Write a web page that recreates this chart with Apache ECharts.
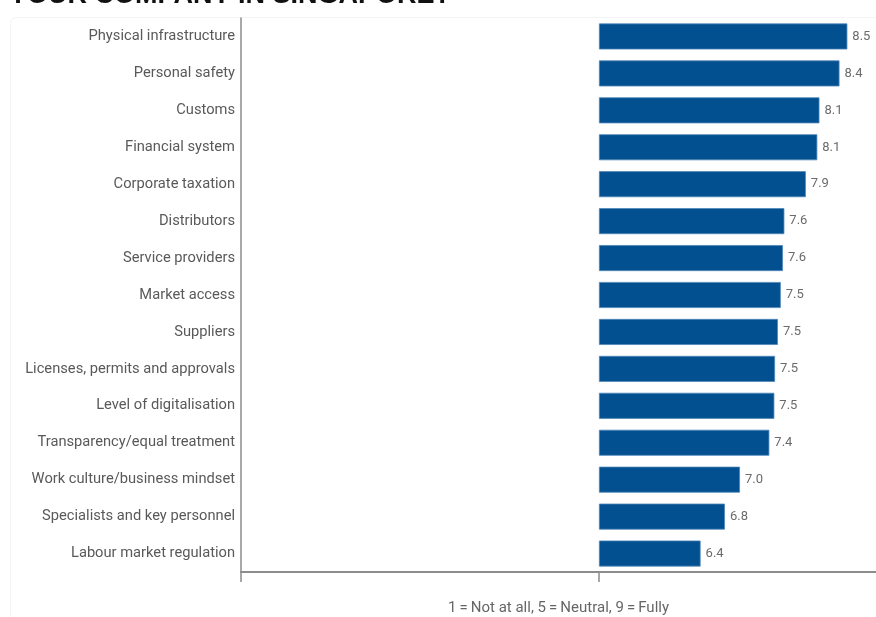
<!DOCTYPE html>
<html>
<head>
<meta charset="utf-8">
<script src="https://cdn.jsdelivr.net/npm/echarts@6/dist/echarts.min.js"></script>
<style>
  html, body { margin: 0; padding: 0; background: #fff; }
  #chart { width: 876px; height: 617px; }
</style>
</head>
<body>
<div id="chart"></div>
<script>
// Satisfaction scores, 1 = not at all, 5 = neutral, 9 = fully
const categories = [
  'Physical infrastructure',
  'Personal safety',
  'Customs',
  'Financial system',
  'Corporate taxation',
  'Distributors',
  'Service providers',
  'Market access',
  'Suppliers',
  'Licenses, permits and approvals',
  'Level of digitalisation',
  'Transparency/equal treatment',
  'Work culture/business mindset',
  'Specialists and key personnel',
  'Labour market regulation'
];
const scores = [8.47, 8.36, 8.08, 8.05, 7.89, 7.59, 7.57, 7.54, 7.50, 7.46, 7.45, 7.38, 6.97, 6.76, 6.42];
const NEUTRAL = 5;
const axisTicks = [0, 5];

const FONT = 'Roboto, "Noto Sans", sans-serif';

// bars float from the neutral point: invisible base + visible segment
const baseData = categories.map(() => NEUTRAL);
const barData = scores.map(v => v - NEUTRAL);

const chart = echarts.init(document.getElementById('chart'));
chart.setOption({
  animation: false,
  backgroundColor: '#fff',
  textStyle: { fontFamily: FONT },
  graphic: [
    {
      type: 'rect',
      shape: { x: 10.5, y: 17.5, width: 900, height: 700, r: 6 },
      style: { fill: 'none', stroke: '#f4f4f4', lineWidth: 1 },
      silent: true
    },
    {
      type: 'text',
      left: 9,
      top: -18,
      style: {
        text: 'YOUR COMPANY IN SINGAPORE?',
        font: 'bold 27px "Liberation Sans", Arial, sans-serif',
        fill: '#111'
      }
    }
  ],
  grid: { left: 241, right: 0, top: 18, bottom: 45, containLabel: false, outerBoundsMode: 'none' },
  xAxis: {
    type: 'value',
    min: 0,
    max: 8.87,
    name: '1\u2009=\u2009Not at all, 5\u2009=\u2009Neutral, 9\u2009=\u2009Fully',
    nameLocation: 'middle',
    nameGap: 29,
    nameTextStyle: { color: '#666', fontSize: 15, fontFamily: FONT },
    axisLine: { show: true, lineStyle: { color: '#8c8c8c', width: 2 } },
    axisTick: {
      show: true, length: 10,
      lineStyle: { color: '#8c8c8c', width: 1.5 },
      customValues: axisTicks
    },
    axisLabel: { show: false },
    splitLine: { show: false }
  },
  yAxis: {
    type: 'category',
    data: categories,
    inverse: true,
    axisLine: { show: true, lineStyle: { color: '#8c8c8c', width: 1.5 } },
    axisTick: { show: false },
    axisLabel: { color: '#595959', fontSize: 14.7, margin: 6, fontFamily: FONT }
  },
  series: [
    {
      type: 'bar',
      stack: 'score',
      data: baseData,
      barWidth: 26,
      itemStyle: { color: 'rgba(0,0,0,0)' },
      silent: true
    },
    {
      type: 'bar',
      stack: 'score',
      data: barData,
      barWidth: 26,
      itemStyle: { color: '#02508f', borderColor: '#4f86ba', borderWidth: 0.8 },
      label: {
        show: true,
        position: 'right',
        distance: 5,
        color: '#6b6b6b',
        fontSize: 13,
        fontFamily: FONT,
        formatter: p => scores[p.dataIndex].toFixed(1)
      }
    }
  ]
});
</script>
</body>
</html>
